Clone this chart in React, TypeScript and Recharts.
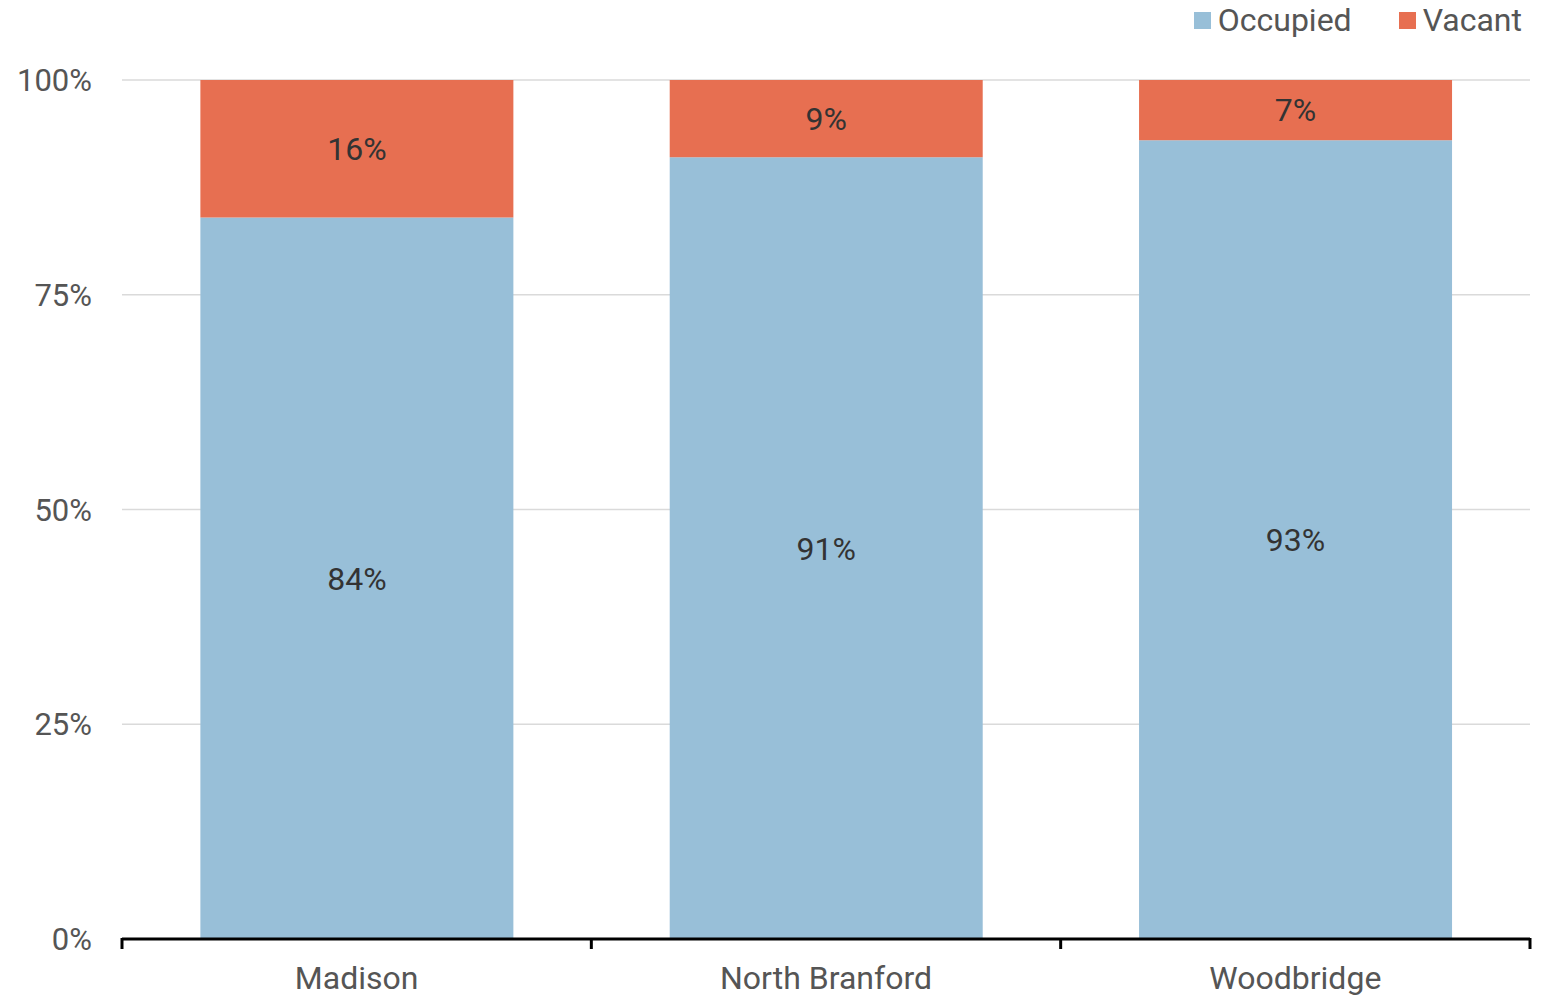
import { BarChart, Bar, XAxis, YAxis, CartesianGrid, Legend, LabelList } from 'recharts';

const towns = ['Madison', 'North Branford', 'Woodbridge'];
const occupied = [84, 91, 93];
const vacant = [16, 9, 7];
const yTicks = [0, 25, 50, 75, 100];

const data = towns.map((town, i) => ({ town, occupied: occupied[i], vacant: vacant[i] }));

const FONT = 'Roboto, "Noto Sans", sans-serif';
const BLUE = '#98bfd8';
const ORANGE = '#e76f51';

const series = [
  { key: 'occupied', name: 'Occupied', color: BLUE },
  { key: 'vacant', name: 'Vacant', color: ORANGE },
];

function LegendBox() {
  return (
    <div
      style={{
        display: 'flex',
        justifyContent: 'flex-end',
        alignItems: 'center',
        height: 40,
        paddingRight: 22,
        fontFamily: FONT,
        fontSize: 32,
        color: '#555',
      }}
    >
      {series.map((s, i) => (
        <div key={s.key} style={{ display: 'flex', alignItems: 'center', marginLeft: i ? 47 : 0 }}>
          <span style={{ width: 17, height: 17, background: s.color, marginRight: 7, display: 'inline-block' }} />
          <span>{s.name}</span>
        </div>
      ))}
    </div>
  );
}

// category label plus tick marks on the band edges (between towns)
function TownTick(props: any) {
  const { x, y, payload, index } = props;
  const half = payload.offset || 0;
  const last = index === towns.length - 1;
  return (
    <g>
      <line x1={x - half} x2={x - half} y1={y - 1} y2={y + 10} stroke="#000" strokeWidth={3} />
      {last && <line x1={x + half} x2={x + half} y1={y - 1} y2={y + 10} stroke="#000" strokeWidth={3} />}
      <text x={x} y={y + 27} dy="0.71em" textAnchor="middle" fill="#555" fontSize={32} fontFamily={FONT}>
        {payload.value}
      </text>
    </g>
  );
}

const pct = (v: number) => `${v}%`;

export default function App() {
  return (
    <div style={{ position: 'absolute', left: 0, top: 0, background: '#fff' }}>
      <BarChart
        width={1544}
        height={997}
        data={data}
        margin={{ top: 40, right: 14, bottom: 0, left: 0 }}
        barCategoryGap="16.7%"
      >
        <CartesianGrid vertical={false} stroke="#dadada" strokeWidth={1.5} />
        <XAxis dataKey="town" height={58} axisLine={{ stroke: '#000', strokeWidth: 3 }} tickLine={false}
          tickSize={0} tickMargin={0} tick={<TownTick />} interval={0} />
        <YAxis domain={[0, 100]} ticks={yTicks} width={122} axisLine={false} tickLine={false}
          tickSize={0} tickMargin={30} tickFormatter={pct}
          tick={{ fill: '#555', fontSize: 31, fontFamily: FONT }} />
        <Legend verticalAlign="top" align="right" content={() => <LegendBox />}
          wrapperStyle={{ left: 0, top: 0, width: 1544 }} />
        {series.map((s) => (
          <Bar key={s.key} dataKey={s.key} name={s.name} stackId="a" fill={s.color}
            isAnimationActive={false}>
            <LabelList dataKey={s.key} position="center" formatter={pct}
              style={{ fill: '#333', fontSize: 32, fontFamily: FONT }} />
          </Bar>
        ))}
      </BarChart>
    </div>
  );
}
